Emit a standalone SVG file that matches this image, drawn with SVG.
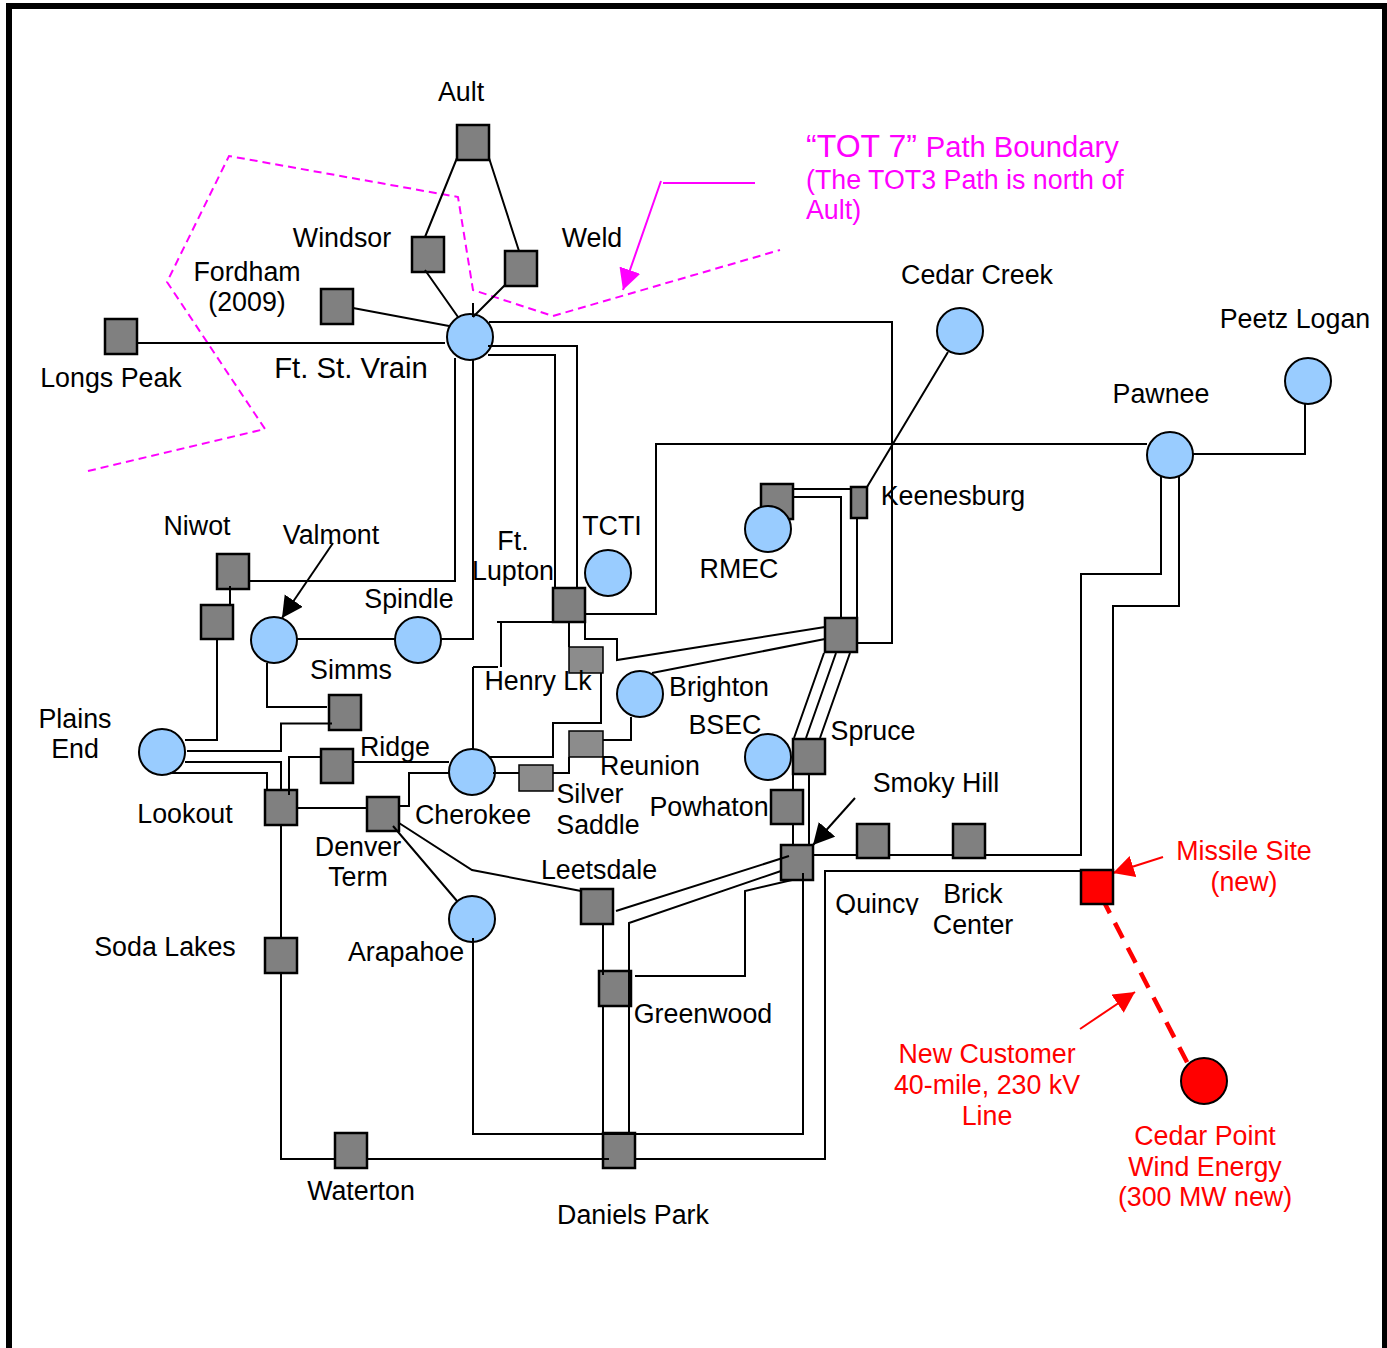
<svg xmlns="http://www.w3.org/2000/svg" width="1387" height="1348" viewBox="0 0 1387 1348">
<defs>
<marker id="bk" markerUnits="userSpaceOnUse" markerWidth="24" markerHeight="24" refX="21" refY="11" orient="auto"><path d="M0,0L21,11L0,22Z" fill="#000"/></marker>
<marker id="mg" markerUnits="userSpaceOnUse" markerWidth="24" markerHeight="24" refX="21" refY="11" orient="auto"><path d="M0,0L21,11L0,22Z" fill="#f0f"/></marker>
<marker id="rd" markerUnits="userSpaceOnUse" markerWidth="24" markerHeight="24" refX="21" refY="11" orient="auto"><path d="M0,0L21,11L0,22Z" fill="#f00"/></marker>
<clipPath id="qclip"><rect x="830" y="880" width="100" height="35"/></clipPath>
</defs>
<style>
text{font-family:"Liberation Sans",Arial,sans-serif;font-size:26.8px;fill:#000;text-anchor:middle}
.m{fill:#f0f;text-anchor:start}
.r{fill:#f00}
.s{fill:#808080;stroke:#000;stroke-width:2.5}
.l{fill:#8c8c8c;stroke:#000;stroke-width:1.5}
.c{fill:#99ccff;stroke:#000;stroke-width:2}
#connectors path{fill:none;stroke:#000;stroke-width:2}
#boundary path{fill:none;stroke:#f0f;stroke-width:2}
</style>
<rect x="9" y="6" width="1376" height="1400" fill="none" stroke="#000" stroke-width="6"/>
<g id="boundary">
<path stroke-dasharray="8 5" d="M88,471L265,429L167,282L229,156L458,197L473,290L553,316L780,250"/>
<path d="M755,183H663M661,181L623,290" marker-end="url(#mg)"/>
</g>
<g id="new-line">
<path d="M1102,898L1187.500,1063" fill="none" stroke="#f00" stroke-width="4.500" stroke-dasharray="17 11"/>
<path d="M1163,857L1113,873" fill="none" stroke="#f00" stroke-width="2" marker-end="url(#rd)"/>
<path d="M1080,1029L1135,992" fill="none" stroke="#f00" stroke-width="2" marker-end="url(#rd)"/>
</g>
<g id="ault"><rect class="s" x="457" y="125" width="32" height="35"/><text x="461" y="101">Ault</text></g>
<g id="windsor"><rect class="s" x="412" y="237" width="32" height="35"/><text x="342" y="247">Windsor</text></g>
<g id="weld"><rect class="s" x="505" y="251" width="32" height="35"/><text x="592" y="247">Weld</text></g>
<g id="fordham"><rect class="s" x="321" y="289" width="32" height="35"/><text x="247" y="281">Fordham</text><text x="247" y="311">(2009)</text></g>
<g id="longs-peak"><rect class="s" x="105" y="319" width="32" height="35"/><text x="111" y="387">Longs Peak</text></g>
<g id="ft-st-vrain"><circle class="c" cx="470" cy="337" r="23"/><text x="351" y="378" style="font-size:29.300px">Ft. St. Vrain</text></g>
<g id="cedar-creek"><circle class="c" cx="960" cy="331" r="23"/><text x="977" y="284">Cedar Creek</text></g>
<g id="peetz-logan"><circle class="c" cx="1308" cy="381" r="23"/><text x="1295" y="328">Peetz Logan</text></g>
<g id="pawnee"><circle class="c" cx="1170" cy="455" r="23"/><text x="1161" y="403">Pawnee</text></g>
<g id="rmec"><rect class="s" x="761" y="484" width="32" height="35"/><circle class="c" cx="768" cy="529" r="23"/><text x="739" y="578">RMEC</text></g>
<g id="keenesburg"><rect class="s" x="851" y="487" width="16" height="31"/><text x="953" y="505">Keenesburg</text></g>
<g id="tcti"><circle class="c" cx="608" cy="573" r="23"/><text x="612" y="535">TCTI</text></g>
<g id="ft-lupton"><rect class="s" x="553" y="588" width="32" height="34"/><text x="513" y="550">Ft.</text><text x="513" y="580">Lupton</text></g>
<g id="niwot"><rect class="s" x="217" y="554" width="32" height="35"/><text x="197" y="535">Niwot</text></g>
<g id="niwot-2"><rect class="s" x="201" y="605" width="32" height="34"/></g>
<g id="valmont"><circle class="c" cx="274" cy="640" r="23"/><text x="331" y="544">Valmont</text></g>
<g id="spindle"><circle class="c" cx="418" cy="640" r="23"/><text x="409" y="608">Spindle</text></g>
<g id="simms"><rect class="s" x="329" y="695" width="32" height="35"/><text x="351" y="679">Simms</text></g>
<g id="henry-lk"><rect class="l" x="569" y="647" width="34" height="26"/><text x="538" y="690">Henry Lk</text></g>
<g id="brighton"><circle class="c" cx="640" cy="694" r="23"/><text x="719" y="696">Brighton</text></g>
<g id="brighton-sub"><rect class="s" x="825" y="618" width="32" height="34"/></g>
<g id="bsec"><circle class="c" cx="768" cy="757" r="23"/><text x="725" y="734">BSEC</text></g>
<g id="spruce"><rect class="s" x="793" y="739" width="32" height="35"/><text x="873" y="740">Spruce</text></g>
<g id="plains-end"><circle class="c" cx="162" cy="752" r="23"/><text x="75" y="728">Plains</text><text x="75" y="758">End</text></g>
<g id="ridge"><rect class="s" x="321" y="749" width="32" height="34"/><text x="395" y="756">Ridge</text></g>
<g id="lookout"><rect class="s" x="265" y="790" width="32" height="35"/><text x="185" y="823">Lookout</text></g>
<g id="denver-term"><rect class="s" x="367" y="797" width="32" height="34"/><text x="358" y="856">Denver</text><text x="358" y="886">Term</text></g>
<g id="cherokee"><circle class="c" cx="472" cy="772" r="23"/><text x="473" y="824">Cherokee</text></g>
<g id="silver-saddle"><rect class="l" x="519" y="765" width="34" height="26"/><text x="590" y="803">Silver</text><text x="598" y="834">Saddle</text></g>
<g id="reunion"><rect class="l" x="569" y="731" width="34" height="26"/><text x="650" y="775">Reunion</text></g>
<g id="powhaton"><rect class="s" x="771" y="790" width="32" height="34"/><text x="709" y="816">Powhaton</text></g>
<g id="smoky-hill"><rect class="s" x="781" y="845" width="32" height="35"/><text x="936" y="792">Smoky Hill</text></g>
<g id="quincy"><rect class="s" x="857" y="824" width="32" height="34"/><text x="877" y="913" clip-path="url(#qclip)">Quincy</text></g>
<g id="brick-center"><rect class="s" x="953" y="824" width="32" height="34"/><text x="973" y="903">Brick</text><text x="973" y="934">Center</text></g>
<g id="leetsdale"><rect class="s" x="581" y="889" width="32" height="35"/><text x="599" y="879">Leetsdale</text></g>
<g id="arapahoe"><circle class="c" cx="472" cy="919" r="23"/><text x="406" y="961">Arapahoe</text></g>
<g id="soda-lakes"><rect class="s" x="265" y="938" width="32" height="35"/><text x="165" y="956">Soda Lakes</text></g>
<g id="greenwood"><rect class="s" x="599" y="971" width="32" height="35"/><text x="703" y="1023">Greenwood</text></g>
<g id="waterton"><rect class="s" x="335" y="1133" width="32" height="35"/><text x="361" y="1200">Waterton</text></g>
<g id="daniels-park"><rect class="s" x="603" y="1133" width="32" height="35"/><text x="633" y="1224">Daniels Park</text></g>
<g id="missile-site"><rect x="1081" y="870" width="32" height="34" fill="#f00" stroke="#000" stroke-width="2.500"/><text class="r" x="1244" y="860">Missile Site</text><text class="r" x="1244" y="891">(new)</text></g>
<g id="cedar-point"><circle cx="1204" cy="1081" r="23" fill="#f00" stroke="#000" stroke-width="2"/><text class="r" x="1205" y="1145">Cedar Point</text><text class="r" x="1205" y="1176">Wind Energy</text><text class="r" x="1205" y="1206">(300 MW new)</text></g>
<g id="new-customer"><text class="r" x="987" y="1063">New Customer</text><text class="r" x="987" y="1094">40-mile, 230 kV</text><text class="r" x="987" y="1125">Line</text></g>
<g id="tot7"><text class="m" x="806" y="157" style="font-size:29.200px"><tspan style="font-size:32px">“TOT 7” </tspan>Path Boundary</text><text class="m" x="806" y="189">(The TOT3 Path is north of</text><text class="m" x="806" y="219">Ault)</text></g>
<g id="connectors">
<path d="M457,158L425,237M489,158L519,251M425,270L458,317M505,285L473,317M473,303V317"/>
<path d="M353,308L449,326M137,343H445"/>
<path d="M489,322H892V643H857"/>
<path d="M488,346H577V588M488,355H555V588"/>
<path d="M455,358V581H249M473,360V639H441"/>
<path d="M230,586V606M217,639V740H185M297,639H395M267,663V707H327"/>
<path d="M332,723.500H281V751H187M185,762H281V790M170,773H267V790M289,795V757H321M353,762H449"/>
<path d="M297,808H367M399,806H409V773H449"/>
<path d="M281,825V938M281,973V1159H335M367,1159H609"/>
<path d="M399,823L472,870L581,891M393,826L457,901"/>
<path d="M473,938V1134H803V873M809,774V845M793,739V790M793,824V845"/>
<path d="M603,924V975M603,1006V1133M629,1135V923L781,871M616,911L789,856M635,976H745V891L792,880"/>
<path d="M813,855H857M889,855H953M985,855H1081V574H1161V476M1113,870V606H1179V476"/>
<path d="M1081,871H825V1159H635"/>
<path d="M1193,454H1305V404M1147,444H656V614H585M948,352L867,487"/>
<path d="M793,489H851M793,497H841V618M857,518V618"/>
<path d="M585,622V639H617V660L825,627M652,673L825,639M824,653L794,738M836,653L806,738M850,653L820,738"/>
<path d="M497,622H553M501,622V667M473,667H498M473,667V750"/>
<path d="M569,622V647M601,673V723H553V757H490M493,773H519M553,773H569V757M603,740H631V717"/>
<path d="M333,543L282,618" marker-end="url(#bk)"/>
<path d="M855,798L813,845" marker-end="url(#bk)"/>
</g>
</svg>
